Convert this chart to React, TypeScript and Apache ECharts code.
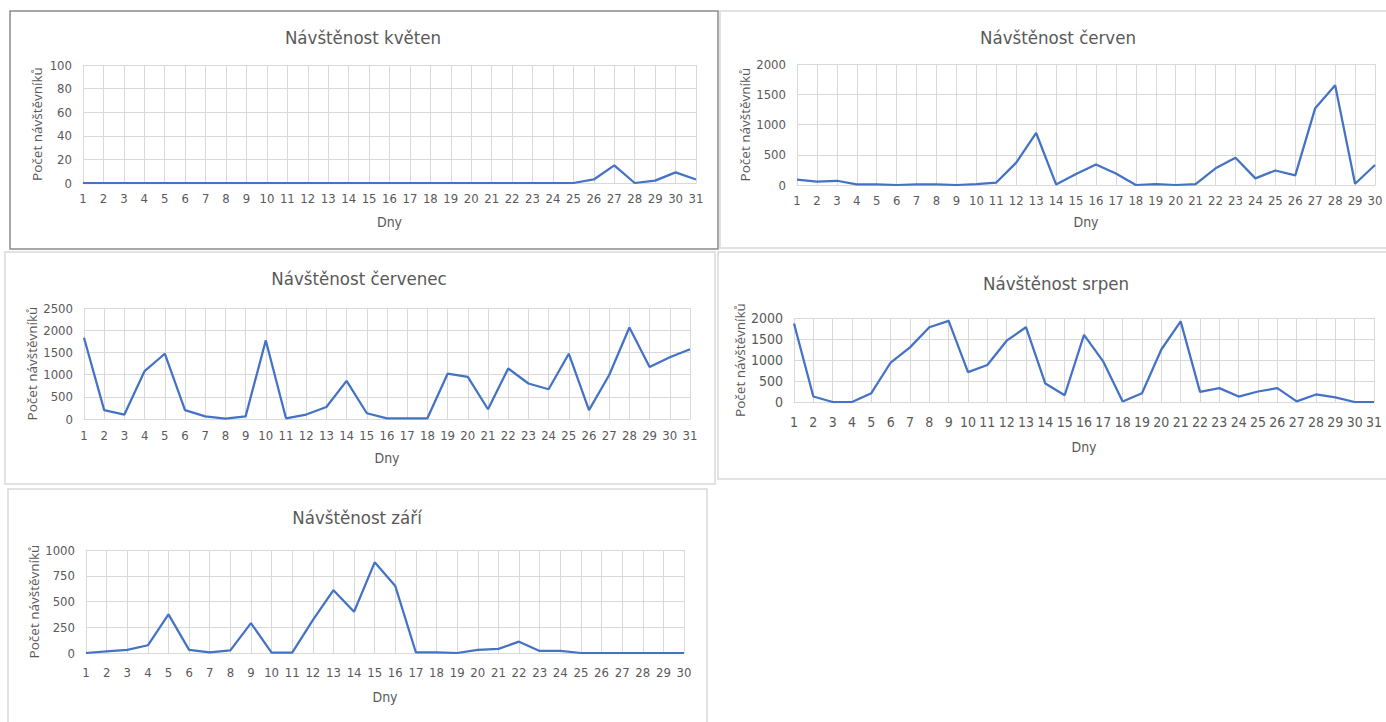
import React, { useEffect, useRef } from "react";
import * as echarts from "echarts";

// ---- data ----
const days31 = ["1","2","3","4","5","6","7","8","9","10","11","12","13","14","15","16","17","18","19","20","21","22","23","24","25","26","27","28","29","30","31"];
const days30 = days31.slice(0, 30);

const kveten = [0,0,0,0,0,0,0,0,0,0,0,0,0,0,0,0,0,0,0,0,0,0,0,0,0,3,15,0,2,9,3];
const cerven = [90,55,70,10,10,0,10,10,0,15,40,370,860,10,180,340,190,0,15,0,15,275,450,110,240,160,1270,1650,20,330];
const cervenec = [1830,200,100,1080,1470,200,60,10,60,1770,15,100,270,860,130,15,15,15,1020,950,220,1140,800,670,1470,200,990,2060,1170,1390,1570];
const srpen = [1870,130,0,0,210,940,1300,1780,1930,710,880,1460,1780,440,160,1600,960,10,210,1250,1920,240,330,130,250,330,15,180,110,0,0];
const zari = [0,15,30,75,375,30,5,25,290,3,3,320,610,400,880,650,5,5,0,30,40,110,20,20,0,0,0,0,0,0];

const titles = ["Návštěnost květen", "Návštěnost červen", "Návštěnost červenec", "Návštěnost srpen", "Návštěnost září"];
const yMax = [100, 2000, 2500, 2000, 1000];
const yStep = [20, 500, 500, 500, 250];
const yAxisName = "Počet návštěvníků";
const xAxisName = "Dny";

const seriesData = [kveten, cerven, cervenec, srpen, zari];
const categories = [days31, days30, days31, days31, days30];

// ---- layout ----
const layout = [
  { grid: [83, 65, 613, 118], title: [363, 37], xm: 9, xg: 32, yg: 39, box: [10, 11, 708, 238], dark: true, fs: 13 },
  { grid: [797, 64, 578, 121], title: [1058, 37], xm: 9, xg: 30, yg: 43, box: [720, 11, 700, 237], dark: false, fs: 13 },
  { grid: [84, 308, 606, 111], title: [359, 278], xm: 10, xg: 32, yg: 45, box: [5, 252, 710, 232], dark: false, fs: 13 },
  { grid: [794, 318, 580, 84], title: [1056, 283], xm: 13, xg: 38, yg: 40, box: [718, 252, 700, 227], dark: false, fs: 14 },
  { grid: [86, 550, 598, 103], title: [357, 517], xm: 13, xg: 37, yg: 42, box: [8, 489, 699, 260], dark: false, fs: 13 },
];

const NARROW = '"Liberation Sans Narrow", "DejaVu Sans Condensed", "Noto Sans", sans-serif';
const TXT = "#595959";
const GRID = "#d9d9d9";
const LINE = "#4472C4";

export default function App() {
  const ref = useRef<HTMLDivElement>(null);
  useEffect(() => {
    if (!ref.current) return;
    const chart = echarts.init(ref.current, null, { renderer: "svg" });
    const grid: any[] = [];
    const xAxis: any[] = [];
    const yAxis: any[] = [];
    const series: any[] = [];
    const graphic: any[] = [];
    layout.forEach((l, i) => {
      graphic.push({
        type: "rect",
        z: -10,
        shape: { x: l.box[0], y: l.box[1], width: l.box[2], height: l.box[3] },
        style: { fill: "#fff", stroke: l.dark ? "#8a8a8a" : "#d9d9d9", lineWidth: 1.5 },
      });
      graphic.push({
        type: "text",
        x: l.title[0],
        y: l.title[1],
        style: {
          text: titles[i],
          align: "center",
          verticalAlign: "middle",
          fontFamily: NARROW,
          fontSize: 18.5,
          fill: TXT,
        },
      });
      grid.push({ left: l.grid[0], top: l.grid[1], width: l.grid[2], height: l.grid[3], containLabel: false });
      xAxis.push({
        type: "category",
        gridIndex: i,
        data: categories[i],
        boundaryGap: false,
        name: xAxisName,
        nameLocation: "middle",
        nameGap: l.xg,
        nameTextStyle: { fontFamily: NARROW, fontSize: 14, color: TXT },
        axisLine: { lineStyle: { color: GRID, width: 1 } },
        axisTick: { show: false },
        axisLabel: { interval: 0, margin: l.xm, fontFamily: NARROW, fontSize: l.fs, color: TXT },
        splitLine: { show: true, interval: 0, lineStyle: { color: GRID, width: 1 } },
      });
      yAxis.push({
        type: "value",
        gridIndex: i,
        min: 0,
        max: yMax[i],
        interval: yStep[i],
        name: yAxisName,
        nameLocation: "middle",
        nameGap: l.yg,
        nameTextStyle: { fontFamily: '"Open Sans", sans-serif', fontSize: 13.5, color: TXT },
        axisLine: { show: false },
        axisTick: { show: false },
        axisLabel: {
          margin: 11,
          fontFamily: NARROW,
          fontSize: l.fs,
          color: TXT,
          formatter: (v: number) => String(v),
        },
        splitLine: { show: true, lineStyle: { color: GRID, width: 1 } },
      });
      series.push({
        type: "line",
        xAxisIndex: i,
        yAxisIndex: i,
        data: seriesData[i],
        showSymbol: false,
        symbol: "none",
        lineStyle: { color: LINE, width: 2.25 },
        itemStyle: { color: LINE },
      });
    });
    chart.setOption({
      animation: false,
      backgroundColor: "#ffffff",
      grid,
      xAxis,
      yAxis,
      series,
      graphic: { elements: graphic },
    });
    return () => chart.dispose();
  }, []);
  return (
    <div
      ref={ref}
      style={{ position: "fixed", left: 0, top: 0, width: 1386, height: 722, background: "#fff" }}
    />
  );
}
